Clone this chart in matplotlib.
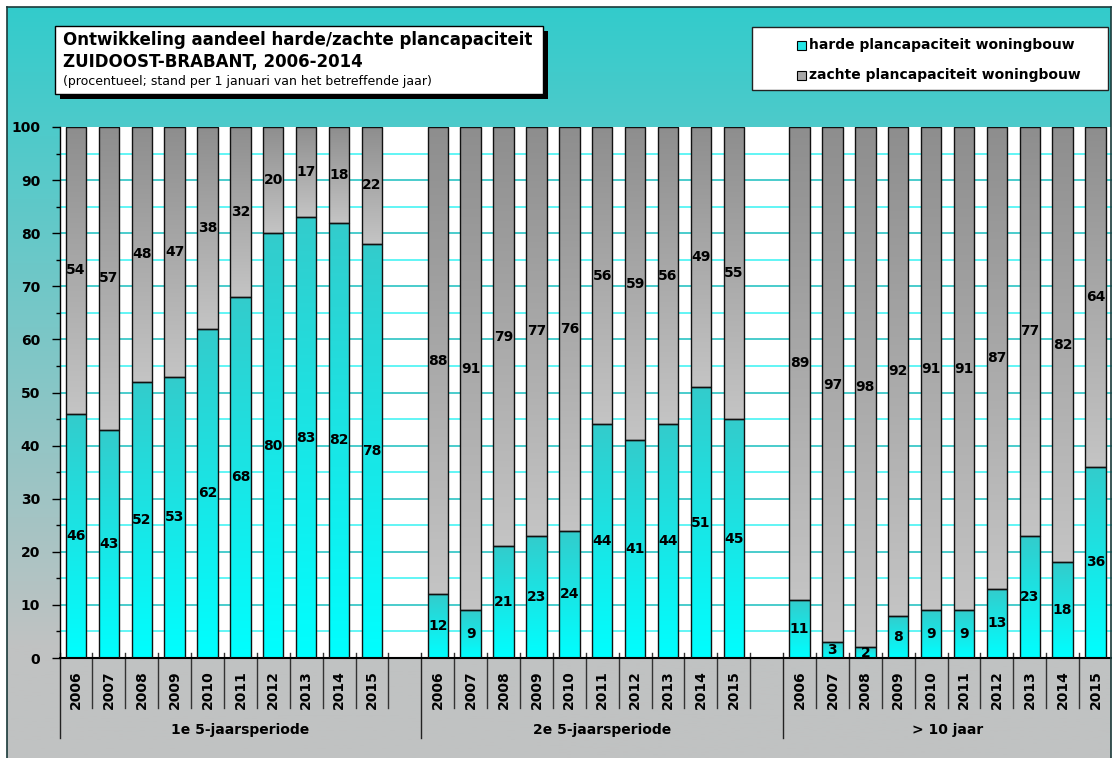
import matplotlib.pyplot as plt
import numpy as np
from matplotlib.colors import LinearSegmentedColormap
from matplotlib.patches import Rectangle

# Data (percentages, per 1 januari)
years = ['2006', '2007', '2008', '2009', '2010', '2011', '2012', '2013', '2014', '2015']
groups = ['1e 5-jaarsperiode', '2e 5-jaarsperiode', '> 10 jaar']

harde_1e = [46, 43, 52, 53, 62, 68, 80, 83, 82, 78]
zachte_1e = [54, 57, 48, 47, 38, 32, 20, 17, 18, 22]
harde_2e = [12, 9, 21, 23, 24, 44, 41, 44, 51, 45]
zachte_2e = [88, 91, 79, 77, 76, 56, 59, 56, 49, 55]
harde_10 = [11, 3, 2, 8, 9, 9, 13, 23, 18, 36]
zachte_10 = [89, 97, 98, 92, 91, 91, 87, 77, 82, 64]

harde = [harde_1e, harde_2e, harde_10]
zachte = [zachte_1e, zachte_2e, zachte_10]

W, H = 1112, 758
fig = plt.figure(figsize=(W / 100, H / 100), dpi=100)
fig.patch.set_facecolor('white')

# background gradient (teal -> grey) inside the chart border
bg = fig.add_axes([7 / W, 0, (1111 - 7) / W, 1 - 7 / H], zorder=-10)
bg_cmap = LinearSegmentedColormap.from_list('bg', [(0, '#33cccc'), (0.85, '#c0c2c2'), (1, '#c0c2c2')])
bg.imshow(np.linspace(0, 1, 256).reshape(-1, 1), cmap=bg_cmap, aspect='auto',
          extent=[0, 1, 0, 1])
bg.set_axis_off()
for xs, ys in [([7, 7], [0, 7]), ([7, 1111], [7, 7]), ([1111, 1111], [7, 0])]:
    fig.add_artist(plt.Line2D([x / W for x in xs], [1 - y / H if y else 0 for y in ys],
                              color='#1a3a3a', lw=1.2))

ax = fig.add_axes([59.5 / W, 1 - 658 / H, (W - 59.5) / W, (658 - 127) / H])
ax.set_facecolor('white')

cyan = LinearSegmentedColormap.from_list('c', ['#33cccc', '#00ffff'])
grey = LinearSegmentedColormap.from_list('g', ['#8e8e8e', '#c4c4c4'])
grad = np.linspace(0, 1, 128).reshape(-1, 1)

bw = 0.62
positions, labels = [], []
for g in range(3):
    for i, yr in enumerate(years):
        x = 11 * g + i + 0.5
        positions.append(x)
        labels.append(yr)
        h, z = harde[g][i], zachte[g][i]
        for y0, y1, cm in [(0, h, cyan), (h, h + z, grey)]:
            ax.imshow(grad, cmap=cm, aspect='auto', zorder=2,
                      extent=[x - bw / 2, x + bw / 2, y0, y1])
        ax.bar(x, h, bw, color='none', edgecolor='#111111', lw=1, zorder=3)
        ax.bar(x, z, bw, bottom=h, color='none', edgecolor='#111111', lw=1, zorder=3)
        ax.text(x, h / 2, str(h), ha='center', va='center', fontsize=10,
                fontweight='bold', zorder=4)
        ax.text(x, h + z / 2, str(z), ha='center', va='center', fontsize=10,
                fontweight='bold', zorder=4)

ax.set_xlim(0, 32)
ax.set_ylim(0, 100)
ax.set_yticks(np.arange(0, 101, 10))
ax.set_yticks(np.arange(5, 100, 10), minor=True)
for y in np.arange(10, 100, 10):
    ax.axhline(y, color='#3cc8c8', lw=1.3, zorder=1)
for y in np.arange(5, 100, 10):
    ax.axhline(y, color='#55f5f5', lw=1.3, zorder=1)
ax.tick_params(axis='y', which='major', length=6, width=1, labelsize=10, pad=8)
ax.tick_params(axis='y', which='minor', length=3, width=1)
for t in ax.get_yticklabels():
    t.set_fontweight('bold')

ax.set_xticks(positions)
ax.set_xticklabels(labels, rotation=90, fontsize=10, fontweight='bold')
ax.tick_params(axis='x', length=0, pad=9)

for s in ['top', 'right']:
    ax.spines[s].set_visible(False)
ax.spines['left'].set_linewidth(1)
ax.spines['bottom'].set_linewidth(1.5)

# category separators and group labels
tr = ax.get_xaxis_transform()
starts = [0, 11, 22]
ends = [11, 22, 32]
for g, name in enumerate(groups):
    ax.plot([starts[g]] * 2, [0.01, -0.151], transform=tr, clip_on=False, color='#222222', lw=1)
    for b in range(starts[g] + 1, min(starts[g] + 11, 32)):
        ax.plot([b] * 2, [0.01, -0.094], transform=tr, clip_on=False, color='#333333', lw=1)
    ax.text((starts[g] + ends[g]) / 2, -0.136, name, transform=tr, ha='center', va='center',
            fontsize=10, fontweight='bold')

# title box with shadow
def fig_rect(x0, y0, x1, y1, **kw):
    fig.add_artist(Rectangle((x0 / W, 1 - y1 / H), (x1 - x0) / W, (y1 - y0) / H,
                             transform=fig.transFigure, **kw))

fig_rect(60, 31, 548, 99, facecolor='black', edgecolor='none')
fig_rect(55, 26, 543, 94, facecolor='white', edgecolor='black', lw=1)
fig.text(63 / W, 1 - 40 / H, 'Ontwikkeling aandeel harde/zachte plancapaciteit',
         fontsize=12, fontweight='bold', va='center', ha='left')
fig.text(63 / W, 1 - 62 / H, 'ZUIDOOST-BRABANT, 2006-2014',
         fontsize=12, fontweight='bold', va='center', ha='left')
fig.text(63 / W, 1 - 82 / H, '(procentueel; stand per 1 januari van het betreffende jaar)',
         fontsize=9, va='center', ha='left')

# legend box
fig_rect(752, 27, 1108, 90, facecolor='white', edgecolor='#222222', lw=1)
fig_rect(797, 41, 806, 50, facecolor='#22e6e6', edgecolor='black', lw=0.8)
fig_rect(797, 71, 806, 80, facecolor='#a8a8a8', edgecolor='black', lw=0.8)
fig.text(809 / W, 1 - 45 / H, 'harde plancapaciteit woningbouw',
         fontsize=10, fontweight='bold', va='center', ha='left')
fig.text(809 / W, 1 - 75 / H, 'zachte plancapaciteit woningbouw',
         fontsize=10, fontweight='bold', va='center', ha='left')

fig.savefig('out.png', dpi=100)
